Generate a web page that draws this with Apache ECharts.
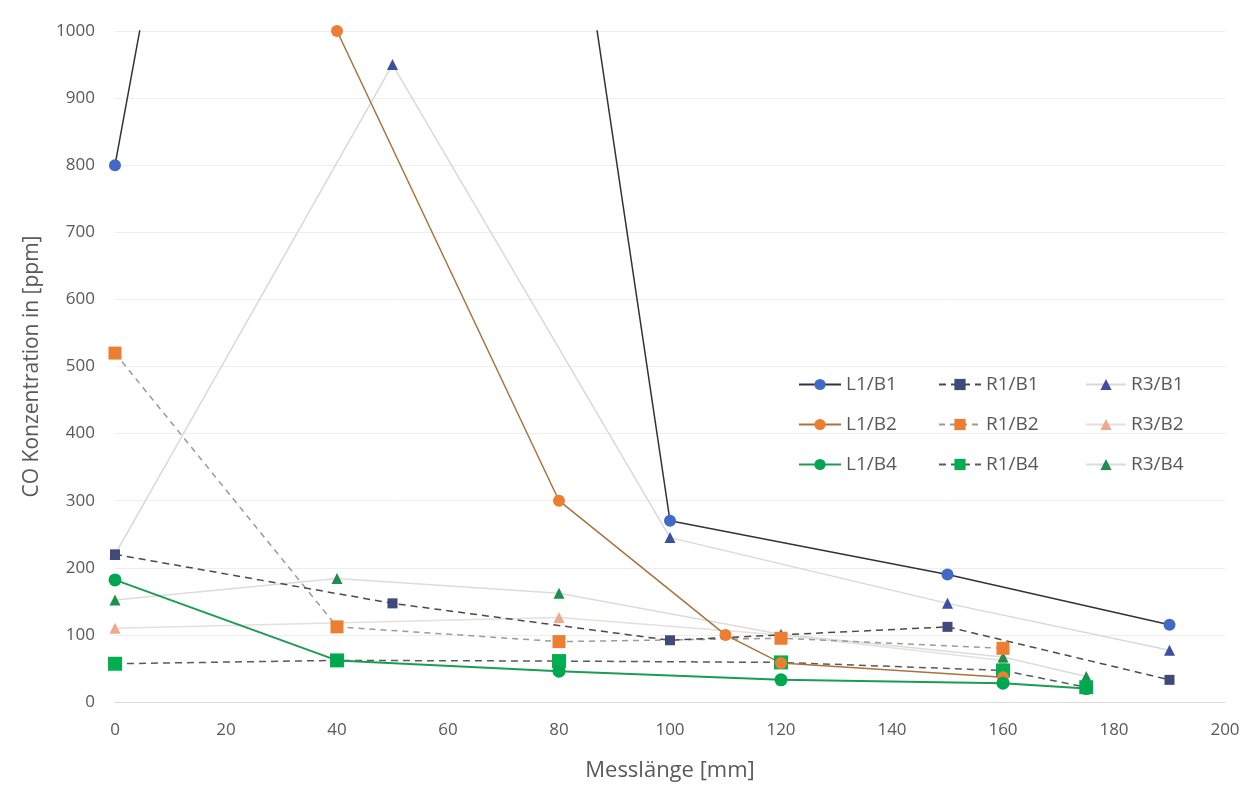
<!DOCTYPE html>
<html>
<head>
<meta charset="utf-8">
<script src="https://cdn.jsdelivr.net/npm/echarts@6/dist/echarts.min.js"></script>
<style>
html,body{margin:0;padding:0;background:#fff;}
#c{width:1252px;height:796px;}
</style>
</head>
<body>
<div id="c"></div>
<script>
// ---- data (x in mm, y in ppm) ----
const L1_B1 = [[0, 800], [50, 3050], [100, 270], [150, 190], [190, 115]];
const R1_B1 = [[0, 220], [50, 147], [100, 92], [150, 112], [190, 33]];
const R3_B1 = [[0, 220], [50, 950], [100, 245], [150, 147], [190, 77]];
const L1_B2 = [[40, 1000], [80, 300], [110, 100], [120, 58], [160, 37]];
const R1_B2 = [[0, 520], [40, 112], [80, 90], [120, 95], [160, 80]];
const R3_B2 = [[0, 110], [80, 126], [120, 100], [160, 62]];
const L1_B4 = [[0, 182], [40, 62], [80, 46], [120, 33], [160, 28], [175, 20]];
const R1_B4 = [[0, 57], [40, 62], [80, 61], [120, 59], [160, 47], [175, 22]];
const R3_B4 = [[0, 152], [40, 184], [80, 162], [120, 101], [160, 67], [175, 38]];
const xTicks = { min: 0, max: 200, interval: 20 };
const yTicks = { min: 0, max: 1000, interval: 100 };
const xName = 'Messlänge [mm]';
const yName = 'CO Konzentration in [ppm]';

const FONT = 'Open Sans';
const TXT = '#595959';

function s(name, data, symbol, mColor, lColor, lType, lWidth, size) {
  return {
    name: name, type: 'line', data: data, symbol: symbol, symbolSize: size,
    itemStyle: { color: mColor },
    lineStyle: { color: lColor, type: lType, width: lWidth },
    clip: true, animation: false, z: 2
  };
}

const series = [
  s('R3/B1', R3_B1, 'triangle', '#3d4f9f', '#d9d9d9', 'solid', 1.5, 11),
  s('R3/B2', R3_B2, 'triangle', '#f1a88a', '#e6e0dc', 'solid', 1.5, 11),
  s('R3/B4', R3_B4, 'triangle', '#1e8f4e', '#dcdcdc', 'solid', 1.5, 11),
  s('R1/B2', R1_B2, 'rect', '#ed7d31', '#9a9a9a', [6, 5], 1.5, 13),
  s('R1/B1', R1_B1, 'rect', '#3f4a78', '#4a4a4a', [7, 5], 1.5, 10),
  s('R1/B4', R1_B4, 'rect', '#00b050', '#5a5a5a', [7, 5], 1.5, 14),
  s('L1/B2', L1_B2, 'circle', '#ed7d31', '#a8743c', 'solid', 1.5, 12),
  s('L1/B4', L1_B4, 'circle', '#00a650', '#1c9c52', 'solid', 2, 13),
  s('L1/B1', L1_B1, 'circle', '#4169c8', '#2f3340', 'solid', 1.5, 12)
];

function legendCol(names, left, iw) {
  return {
    orient: 'vertical', left: left, top: 370, itemGap: 21,
    itemWidth: iw, itemHeight: 14, data: names,
    textStyle: { color: TXT, fontFamily: FONT, fontSize: 19 },
    inactiveColor: '#ccc', selectedMode: false
  };
}

const chart = echarts.init(document.getElementById('c'), null, { renderer: 'canvas' });
chart.setOption({
  backgroundColor: '#ffffff',
  animation: false,
  textStyle: { fontFamily: FONT },
  grid: { left: 115, right: 27, top: 31, bottom: 94, containLabel: false },
  xAxis: {
    type: 'value', min: xTicks.min, max: xTicks.max, interval: xTicks.interval,
    name: xName, nameLocation: 'middle', nameGap: 58,
    nameTextStyle: { color: TXT, fontSize: 22, fontFamily: FONT },
    axisLine: { show: true, lineStyle: { color: '#d9d9d9', width: 1 } },
    axisTick: { show: false },
    axisLabel: { color: TXT, fontSize: 17, margin: 20, fontFamily: FONT },
    splitLine: { show: false }
  },
  yAxis: {
    type: 'value', min: yTicks.min, max: yTicks.max, interval: yTicks.interval,
    name: yName, nameLocation: 'middle', nameGap: 72, nameRotate: 90,
    nameTextStyle: { color: TXT, fontSize: 21, fontFamily: FONT },
    axisLine: { show: false },
    axisTick: { show: false },
    axisLabel: { color: TXT, fontSize: 17, margin: 20, fontFamily: FONT,
                 formatter: function (v) { return String(v); } },
    splitLine: { show: true, lineStyle: { color: '#eeeeee', width: 1 } }
  },
  legend: [
    legendCol(['L1/B1', 'L1/B2', 'L1/B4'], 793, 42),
    legendCol(['R1/B1', 'R1/B2', 'R1/B4'], 933, 42),
    legendCol(['R3/B1', 'R3/B2', 'R3/B4'], 1080, 40)
  ],
  series: series
});
</script>
</body>
</html>
